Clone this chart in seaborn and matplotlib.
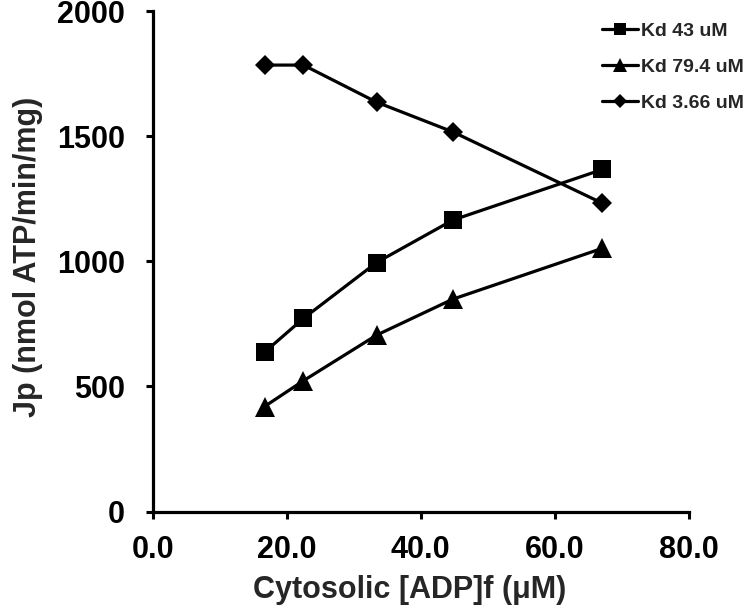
import seaborn as sns
import matplotlib.pyplot as plt
import pandas as pd

adp = [16.7, 22.5, 33.4, 44.8, 67.1]
kd43 = [637, 772, 995, 1165, 1367]
kd794 = [420, 523, 705, 849, 1052]
kd366 = [1784, 1784, 1636, 1517, 1232]

labels = ["Kd 43 uM", "Kd 79.4 uM", "Kd 3.66 uM"]
markers = ["s", "^", "D"]
msizes = [13, 14, 10]

sns.set_style("ticks")
plt.rcParams['font.family'] = ['Liberation Sans', 'DejaVu Sans']
plt.rcParams['font.weight'] = 'bold'

df = pd.DataFrame({'ADP': adp * 3,
                   'Jp': kd43 + kd794 + kd366,
                   'series': [l for l in labels for _ in adp]})

fig = plt.figure(figsize=(7.48, 6.12), dpi=100)
ax = fig.add_axes([0.204, 0.164, 0.717, 0.818])

for lab, m, ms in zip(labels, markers, msizes):
    sub = df[df['series'] == lab]
    sns.lineplot(data=sub, x='ADP', y='Jp', label=lab, color='black', marker=m,
                 markersize=ms, markeredgewidth=0, linewidth=2.3, errorbar=None, ax=ax)

ax.set_xlim(0, 80)
ax.set_ylim(0, 2000)
ax.set_xticks([0, 20, 40, 60, 80])
ax.set_xticklabels(["0.0", "20.0", "40.0", "60.0", "80.0"])
ax.set_yticks([0, 500, 1000, 1500, 2000])
ax.tick_params(width=2.2, length=5, labelsize=22, colors='black')
ax.tick_params(axis='x', pad=12)
ax.tick_params(axis='y', pad=15)
for s in ['left', 'bottom']:
    ax.spines[s].set_linewidth(2.3)
    ax.spines[s].set_color('black')
sns.despine(ax=ax)

ax.set_xlabel("Cytosolic [ADP]f (\u03bcM)", fontsize=22, fontweight='bold')
ax.set_ylabel("Jp (nmol ATP/min/mg)", fontsize=22, fontweight='bold')
ax.xaxis.set_label_coords(0.48, -0.126)
ax.yaxis.set_label_coords(-0.205, 0.508)

ax.legend(loc='upper right', bbox_to_anchor=(1.135, 1.012), frameon=False,
          labelspacing=0.93, handlelength=1.85, handletextpad=0.15, markerscale=0.7,
          prop={'weight': 'bold', 'size': 14})

fig.savefig('out.png', dpi=100)
